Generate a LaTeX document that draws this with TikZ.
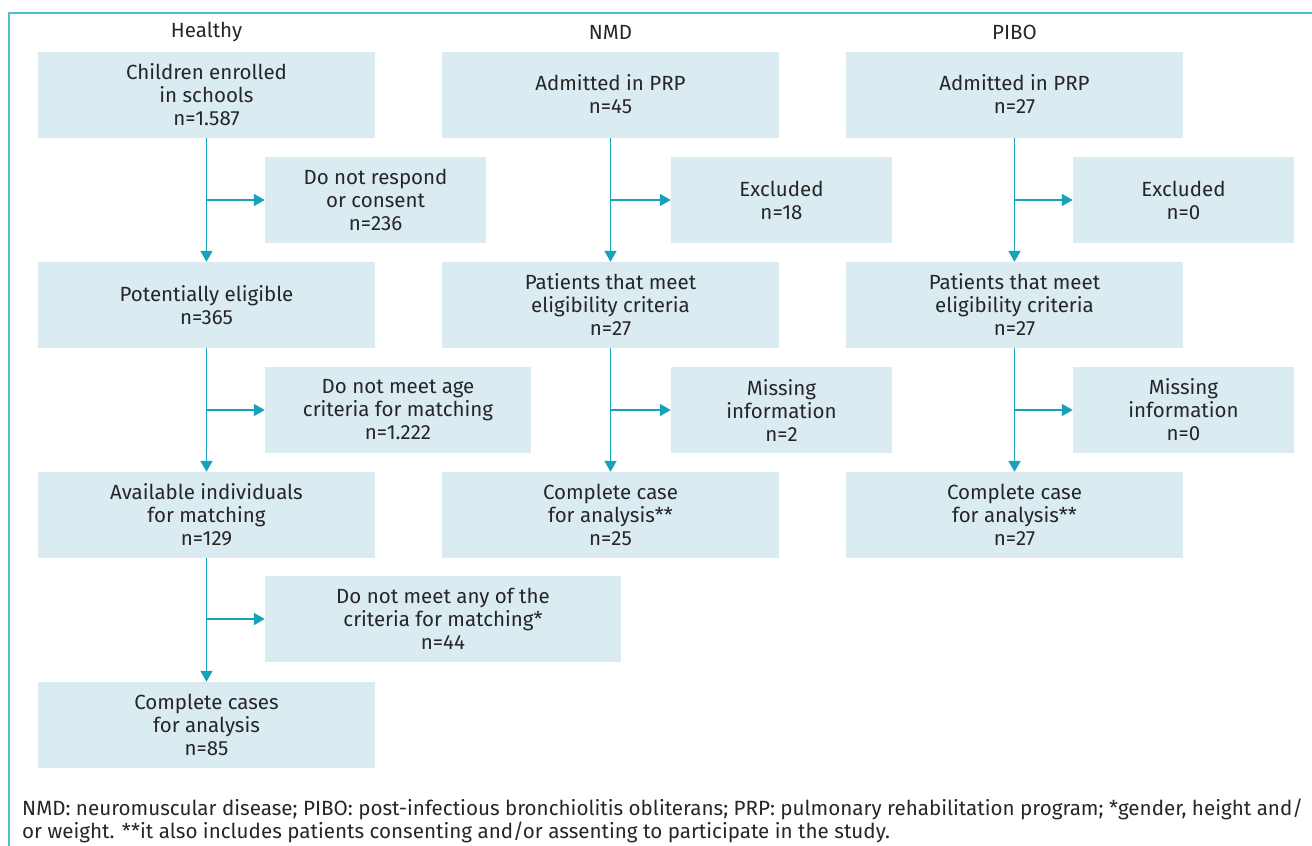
\documentclass[tikz,border=0pt]{standalone}
\usepackage{fontspec}
\setmainfont{Fira Sans}
\usetikzlibrary{arrows.meta}
\definecolor{linec}{HTML}{17A2BA}
\definecolor{framec}{HTML}{4DBFD0}
\definecolor{boxc}{HTML}{DAEBF2}
\definecolor{txtc}{HTML}{262626}
\tikzset{
  box/.style={fill=boxc, text=txtc, align=center, inner sep=0pt, minimum height=86pt,
    font=\fontsize{20.5}{23}\selectfont},
  mainbox/.style={box, minimum width=337pt},
  flow/.style={draw=linec, line width=1.8pt, -{Triangle[length=11pt,width=12pt]}},
  title/.style={text=txtc, font=\fontsize{20.5}{23}\selectfont},
}
\begin{document}
\begin{tikzpicture}[x=1pt,y=-1pt]
\useasboundingbox (0,0) rectangle (1312,846);
\draw[framec, line width=2pt] (9,846) -- (9,12.5) -- (1312,12.5);

% titles
\node[title] (tH) at (206.5,32) {Healthy};
\node[title] (tN) at (610.5,32) {NMD};
\node[title] (tP) at (1014.5,32) {PIBO};

% Healthy column
\node[mainbox] (h1) at (206.5,94.5) {Children enrolled\\in schools\\n=1.587};
\node[box, minimum width=221pt] (hs1) at (375.5,200) {Do not respond\\or consent\\n=236};
\node[mainbox] (h2) at (206.5,305) {Potentially eligible\\n=365};
\node[box, minimum width=266pt] (hs2) at (398,410) {Do not meet age\\criteria for matching\\n=1.222};
\node[mainbox] (h3) at (206.5,515) {Available individuals\\for matching\\n=129};
\node[box, minimum width=356pt] (hs3) at (443,619) {Do not meet any of the\\criteria for matching*\\n=44};
\node[mainbox] (h4) at (206.5,725) {Complete cases\\for analysis\\n=85};

% NMD column
\node[mainbox] (n1) at (610.5,94.5) {Admitted in PRP\\n=45};
\node[box, minimum width=221pt] (ns1) at (781.5,200) {Excluded\\n=18};
\node[mainbox] (n2) at (610.5,305) {Patients that meet\\eligibility criteria\\n=27};
\node[box, minimum width=221pt] (ns2) at (781.5,410) {Missing\\information\\n=2};
\node[mainbox] (n3) at (610.5,515) {Complete case\\for analysis**\\n=25};

% PIBO column
\node[mainbox] (p1) at (1014.5,94.5) {Admitted in PRP\\n=27};
\node[box, minimum width=221pt] (ps1) at (1183.5,200) {Excluded\\n=0};
\node[mainbox] (p2) at (1014.5,305) {Patients that meet\\eligibility criteria\\n=27};
\node[box, minimum width=221pt] (ps2) at (1183.5,410) {Missing\\information\\n=0};
\node[mainbox] (p3) at (1014.5,515) {Complete case\\for analysis**\\n=27};

% vertical flows
\foreach \a/\b in {h1/h2,h2/h3,h3/h4,n1/n2,n2/n3,p1/p2,p2/p3}
  \draw[flow] (\a.south) -- (\b.north);
% side branches
\foreach \s in {hs1,hs2,hs3}
  \draw[flow] (h1.south |- \s.west) -- (\s.west);
\foreach \s in {ns1,ns2}
  \draw[flow] (n1.south |- \s.west) -- (\s.west);
\foreach \s in {ps1,ps2}
  \draw[flow] (p1.south |- \s.west) -- (\s.west);

% footnote
\node[anchor=north west, inner sep=0pt, align=left, text=txtc,
  font=\fontsize{20.6}{23}\selectfont] (fn) at (22,799)
  {NMD: neuromuscular disease; PIBO: post-infectious bronchiolitis obliterans; PRP: pulmonary rehabilitation program; *gender, height and/\\or weight. **it also includes patients consenting and/or assenting to participate in the study.};
\end{tikzpicture}
\end{document}
